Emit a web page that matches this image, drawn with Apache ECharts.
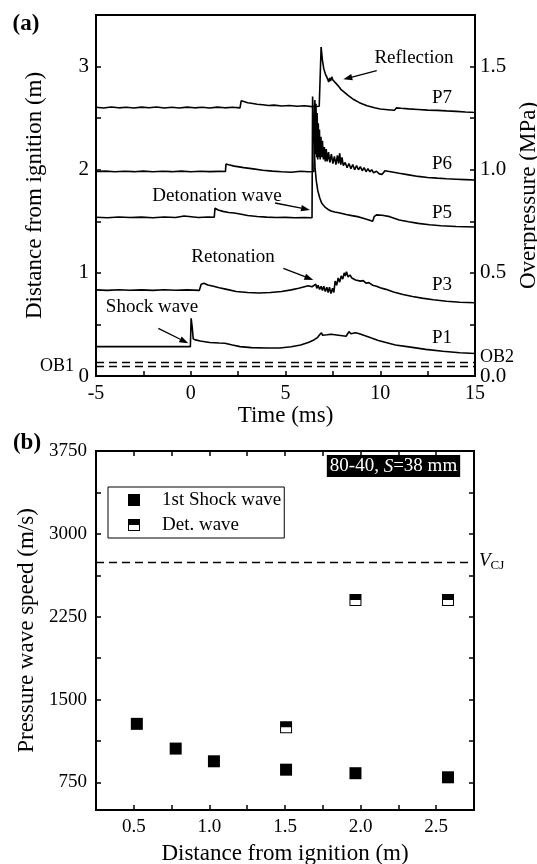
<!DOCTYPE html>
<html>
<head>
<meta charset="utf-8">
<script src="https://cdn.jsdelivr.net/npm/echarts@6/dist/echarts.min.js"></script>
<style>
html,body{margin:0;padding:0;background:#fff;}
#chart{width:537px;height:864px;}
</style>
</head>
<body>
<div id="chart"></div>
<script>
// ---------- Panel (a): pressure traces, [time (ms), offset distance (m)] ----------
const p7Trace = [[-5,2.605],[-4.6,2.598],[-4.2,2.608],[-3.8,2.600],[-3.4,2.606],[-3.0,2.598],[-2.6,2.607],[-2.2,2.600],[-1.8,2.608],[-1.4,2.599],[-1.0,2.606],[-0.6,2.598],[-0.2,2.607],[0.2,2.600],[0.6,2.606],[1.0,2.598],[1.4,2.607],[1.8,2.600],[2.2,2.606],[2.6,2.600],[2.66,2.668],[2.8,2.662],[3.0,2.650],[3.2,2.645],[3.5,2.634],[3.8,2.630],[4.1,2.622],[4.4,2.626],[4.8,2.618],[5.2,2.622],[5.6,2.615],[6.0,2.620],[6.4,2.612],[6.78,2.615],[6.88,3.19],[6.95,3.06],[7.02,2.98],[7.1,2.93],[7.2,2.89],[7.28,2.85],[7.33,2.89],[7.38,2.86],[7.44,2.90],[7.5,2.87],[7.6,2.86],[7.7,2.83],[7.8,2.81],[7.92,2.78],[8.05,2.76],[8.3,2.72],[8.6,2.68],[8.9,2.65],[9.3,2.62],[9.7,2.60],[10.0,2.588],[10.4,2.582],[10.75,2.576],[10.8,2.560],[10.86,2.600],[11.1,2.596],[11.5,2.590],[12.0,2.584],[12.5,2.578],[13.0,2.575],[13.5,2.570],[14.0,2.566],[14.5,2.560],[15.0,2.555]];
const p6Trace = [[-5,1.982],[-4.5,1.986],[-4,1.980],[-3.5,1.985],[-3,1.981],[-2.5,1.986],[-2,1.980],[-1.5,1.985],[-1,1.981],[-0.5,1.986],[0,1.980],[0.5,1.985],[1.0,1.981],[1.5,1.984],[1.83,1.982],[1.86,2.056],[2.0,2.048],[2.3,2.035],[2.8,2.020],[3.3,2.008],[3.8,1.995],[4.3,1.986],[4.8,1.980],[5.3,1.976],[5.8,1.985],[6.2,1.980],[6.5,1.982],[6.55,2.677],[6.58,2.15],[6.61,2.64],[6.64,2.12],[6.67,2.55],[6.70,2.10],[6.73,2.45],[6.76,2.12],[6.79,2.39],[6.83,2.10],[6.87,2.32],[6.91,2.12],[6.95,2.28],[7.0,2.10],[7.05,2.22],[7.1,2.08],[7.15,2.20],[7.2,2.08],[7.27,2.17],[7.34,2.07],[7.42,2.15],[7.5,2.06],[7.58,2.13],[7.66,2.05],[7.74,2.14],[7.8,2.06],[7.86,2.16],[7.92,2.05],[7.98,2.12],[8.05,2.04],[8.15,2.07],[8.25,2.02],[8.35,2.06],[8.45,2.01],[8.55,2.05],[8.65,2.00],[8.75,2.04],[8.85,2.00],[8.95,2.03],[9.05,1.99],[9.15,2.02],[9.25,1.98],[9.35,2.01],[9.45,1.98],[9.55,2.00],[9.65,1.97],[9.8,1.985],[9.95,1.96],[10.1,1.955],[10.2,1.950],[10.25,1.990],[10.4,1.985],[10.7,1.975],[11.0,1.965],[11.5,1.950],[12.0,1.935],[12.5,1.925],[13.0,1.918],[13.5,1.912],[14.0,1.908],[14.5,1.904],[15.0,1.900]];
const p5Trace = [[-5,1.539],[-4.4,1.535],[-3.8,1.541],[-3.2,1.536],[-2.6,1.540],[-2.0,1.535],[-1.4,1.541],[-0.8,1.537],[-0.35,1.552],[-0.25,1.540],[0.4,1.537],[0.9,1.541],[1.24,1.539],[1.28,1.627],[1.45,1.610],[1.7,1.596],[2.0,1.585],[2.3,1.580],[2.6,1.570],[3.0,1.556],[3.5,1.546],[4.0,1.540],[4.5,1.536],[5.0,1.538],[5.5,1.534],[6.0,1.537],[6.40,1.535],[6.43,2.709],[6.50,2.30],[6.56,2.02],[6.62,1.90],[6.70,1.80],[6.80,1.73],[6.90,1.68],[7.0,1.655],[7.1,1.635],[7.25,1.615],[7.4,1.600],[7.6,1.590],[7.87,1.580],[8.2,1.565],[8.5,1.555],[8.8,1.545],[9.1,1.530],[9.4,1.512],[9.6,1.500],[9.68,1.545],[9.8,1.562],[10.1,1.558],[10.5,1.545],[11.0,1.512],[11.5,1.495],[12.0,1.480],[12.6,1.466],[13.2,1.457],[14.0,1.450],[15.0,1.445]];
const p3Trace = [[-5,0.835],[-4.4,0.830],[-3.8,0.836],[-3.2,0.831],[-2.6,0.835],[-2.0,0.830],[-1.4,0.836],[-0.8,0.831],[-0.2,0.835],[0.45,0.830],[0.55,0.890],[0.7,0.900],[0.9,0.882],[1.2,0.870],[1.5,0.855],[1.9,0.840],[2.4,0.820],[3.0,0.810],[3.6,0.805],[4.2,0.810],[4.8,0.820],[5.3,0.835],[5.7,0.850],[6.0,0.865],[6.2,0.875],[6.4,0.865],[6.5,0.870],[6.6,0.890],[6.65,0.850],[6.72,0.880],[6.8,0.840],[6.88,0.870],[6.95,0.830],[7.02,0.870],[7.1,0.820],[7.18,0.860],[7.25,0.810],[7.32,0.860],[7.4,0.800],[7.48,0.850],[7.55,0.810],[7.62,0.920],[7.7,0.880],[7.78,0.950],[7.86,0.910],[7.94,0.970],[8.02,0.940],[8.1,1.000],[8.15,0.970],[8.22,1.010],[8.3,0.960],[8.4,0.980],[8.5,0.950],[8.6,0.960],[8.7,0.930],[8.8,0.945],[8.95,0.920],[9.1,0.925],[9.25,0.900],[9.4,0.905],[9.6,0.880],[9.8,0.870],[10.0,0.855],[10.3,0.840],[10.7,0.815],[11.2,0.790],[11.7,0.770],[12.2,0.755],[12.8,0.740],[13.5,0.725],[14.2,0.715],[15.0,0.710]];
const p1Trace = [[-5,0.285],[-3,0.285],[-1,0.285],[-0.02,0.285],[0.02,0.560],[0.08,0.470],[0.13,0.360],[0.25,0.350],[0.5,0.340],[1.0,0.325],[1.5,0.320],[1.8,0.318],[2.2,0.300],[2.6,0.285],[3.2,0.275],[4.0,0.272],[4.7,0.272],[5.3,0.283],[5.8,0.300],[6.2,0.325],[6.5,0.350],[6.7,0.375],[6.8,0.400],[6.85,0.385],[6.9,0.420],[6.95,0.395],[7.05,0.410],[7.2,0.400],[7.4,0.405],[7.6,0.400],[7.8,0.395],[8.0,0.390],[8.2,0.385],[8.3,0.380],[8.35,0.430],[8.45,0.410],[8.55,0.425],[8.7,0.420],[8.9,0.410],[9.2,0.390],[9.5,0.370],[9.9,0.345],[10.3,0.325],[10.8,0.300],[11.6,0.280],[12.4,0.258],[13.3,0.240],[14.2,0.226],[15.0,0.218]];
const obLevels = [0.085, 0.125];
const timeRange = [-5, 15];
const distRange = [0, 3.5];
const mpaRange = [0, 1.75];

// ---------- Panel (b): wave speeds ----------
const shockDist = [0.52, 0.777, 1.03, 1.507, 1.966, 2.578];
const shockSpeed = [1280, 1056, 941, 865, 833, 796];
const detDist = [1.507, 1.966, 2.578];
const detSpeed = [1250, 2400, 2400];
const vcj = 2745;
const speedTicks = [750, 1125, 1500, 1875, 2250, 2625, 3000, 3375, 3750];
const speedLabels = [750, 1500, 2250, 3000, 3750];

const SERIF = '"Liberation Serif","Times New Roman",serif';
const chart = echarts.init(document.getElementById('chart'), null, {renderer: 'canvas'});

const SQ = 'path://M0,0L12,0L12,12L0,12Z';
const DET = 'path://M0,0L12,0L12,12L0,12Z M1,6L1,11L11,11L11,6Z';

function axisCommon(extra) {
  return Object.assign({
    axisLine: {show: true, onZero: false, lineStyle: {color: '#000', width: 2}},
    axisTick: {show: true, inside: true, length: 5, lineStyle: {color: '#000', width: 1.5}},
    splitLine: {show: false},
    axisLabel: {color: '#000', fontFamily: SERIF, fontSize: 20},
    nameTextStyle: {color: '#000', fontFamily: SERIF, fontSize: 23}
  }, extra);
}
const halfStep = v => Math.abs(v * 2 - Math.round(v * 2)) < 1e-9;

function arrow(x1, y1, x2, y2) {
  const a = Math.atan2(y2 - y1, x2 - x1);
  const L = 9, W = 3.2;
  const bx = x2 - L * Math.cos(a), by = y2 - L * Math.sin(a);
  const px = -Math.sin(a) * W, py = Math.cos(a) * W;
  return [
    {type: 'line', z: 100, shape: {x1: x1, y1: y1, x2: bx, y2: by}, style: {stroke: '#000', lineWidth: 1.3}},
    {type: 'polygon', z: 100, shape: {points: [[x2, y2], [bx + px, by + py], [bx - px, by - py]]}, style: {fill: '#000'}}
  ];
}
function txt(x, y, text, size, bold) {
  return {type: 'text', z: 100, x: x, y: y,
    style: {text: text, fill: '#000', font: (bold ? 'bold ' : '') + size + 'px ' + SERIF, align: 'center', verticalAlign: 'middle'}};
}

const traceStyle = {color: '#000', width: 1.6};
function trace(name, data) {
  return {name: name, type: 'line', xAxisIndex: 0, yAxisIndex: 0, data: data, showSymbol: false, symbol: 'none',
    lineStyle: traceStyle, itemStyle: {color: '#000'}, silent: true, animation: false, sampling: null};
}

const option = {
  animation: false,
  backgroundColor: '#fff',
  grid: [
    {left: 96, top: 15, width: 379, height: 361, show: true, borderColor: '#000', borderWidth: 2, backgroundColor: 'transparent', containLabel: false, outerBoundsMode: 'none'},
    {left: 96, top: 451, width: 378, height: 359, show: true, borderColor: '#000', borderWidth: 2, backgroundColor: 'transparent', containLabel: false, outerBoundsMode: 'none'}
  ],
  xAxis: [
    axisCommon({gridIndex: 0, type: 'value', position: 'bottom', min: timeRange[0], max: timeRange[1], interval: 2.5,
      axisLabel: {color: '#000', fontFamily: SERIF, fontSize: 20, margin: 8, formatter: v => (v % 5 === 0 ? String(v) : '')},
      name: 'Time (ms)', nameLocation: 'middle', nameGap: 28}),
    axisCommon({gridIndex: 1, type: 'value', position: 'bottom', min: 0.25, max: 2.75, interval: 0.25,
      axisLabel: {color: '#000', fontFamily: SERIF, fontSize: 19, margin: 8, formatter: v => (halfStep(v) && v > 0.3 && v < 2.7 ? v.toFixed(1) : '')},
      name: 'Distance from ignition (m)', nameLocation: 'middle', nameGap: 32}),
    axisCommon({gridIndex: 1, type: 'value', position: 'top', min: 0.25, max: 2.75, interval: 0.25,
      axisLabel: {show: false}})
  ],
  yAxis: [
    axisCommon({gridIndex: 0, type: 'value', position: 'left', min: distRange[0], max: distRange[1], interval: 0.5,
      axisLabel: {color: '#000', fontFamily: SERIF, fontSize: 21, margin: 7, formatter: v => (Number.isInteger(v) ? String(v) : '')},
      name: 'Distance from ignition (m)', nameLocation: 'middle', nameRotate: 90, nameGap: 50}),
    axisCommon({gridIndex: 0, type: 'value', position: 'right', min: mpaRange[0], max: mpaRange[1], interval: 0.25,
      axisLabel: {color: '#000', fontFamily: SERIF, fontSize: 21, margin: 5, formatter: v => (halfStep(v) ? v.toFixed(1) : '')},
      name: 'Overpressure (MPa)', nameLocation: 'middle', nameRotate: 90, nameGap: 36}),
    axisCommon({gridIndex: 1, type: 'value', position: 'left', min: 500, max: 3750,
      axisTick: {show: true, inside: true, length: 5, lineStyle: {color: '#000', width: 1.5}, customValues: speedTicks},
      axisLabel: {color: '#000', fontFamily: SERIF, fontSize: 19, margin: 9, customValues: speedLabels, formatter: v => String(v)},
      name: 'Pressure wave speed (m/s)', nameLocation: 'middle', nameRotate: 90, nameGap: 57}),
    axisCommon({gridIndex: 1, type: 'value', position: 'right', min: 500, max: 3750,
      axisTick: {show: true, inside: true, length: 5, lineStyle: {color: '#000', width: 1.5}, customValues: speedTicks},
      axisLabel: {show: false}})
  ],
  legend: {
    show: true, orient: 'vertical', left: 108, top: 487,
    padding: [3, 3, 3, 20], itemGap: 5, itemWidth: 12, itemHeight: 12,
    borderColor: '#000', borderWidth: 1, backgroundColor: '#fff',
    textStyle: {color: '#000', fontFamily: SERIF, fontSize: 19, lineHeight: 20, padding: [0, 0, 0, 17]},
    data: [{name: '1st Shock wave', icon: SQ}, {name: 'Det. wave', icon: DET}],
    selectedMode: false
  },
  series: [
    trace('P7', p7Trace), trace('P6', p6Trace), trace('P5', p5Trace), trace('P3', p3Trace),
    Object.assign(trace('P1', p1Trace), {
      markLine: {silent: true, symbol: 'none', label: {show: false}, animation: false,
        lineStyle: {color: '#000', type: [8, 5], width: 1.3},
        data: obLevels.map(v => ({yAxis: v}))}
    }),
    {name: '1st Shock wave', type: 'scatter', xAxisIndex: 1, yAxisIndex: 2, symbol: SQ, symbolSize: 12,
      itemStyle: {color: '#000', opacity: 1}, data: shockDist.map((d, i) => [d, shockSpeed[i]]), z: 5},
    {name: 'Det. wave', type: 'scatter', xAxisIndex: 1, yAxisIndex: 2, symbol: DET, symbolSize: 12,
      itemStyle: {color: '#000', opacity: 1}, data: detDist.map((d, i) => [d, detSpeed[i]]), z: 6,
      markLine: {silent: true, symbol: 'none', label: {show: false}, animation: false,
        lineStyle: {color: '#000', type: [8, 5], width: 1.3},
        data: [{yAxis: vcj}]}}
  ],
  graphic: [
    txt(26, 24, '(a)', 23, true),
    txt(27, 443, '(b)', 23, true),
    txt(414, 58, 'Reflection', 19),
    txt(442, 98, 'P7', 19),
    txt(442, 164, 'P6', 19),
    txt(217, 196, 'Detonation wave', 19),
    txt(442, 213, 'P5', 19),
    txt(233, 257, 'Retonation', 19),
    txt(442, 285, 'P3', 19),
    txt(152, 307, 'Shock wave', 19),
    txt(442, 338, 'P1', 19),
    txt(57, 366, 'OB1', 18),
    txt(497, 357, 'OB2', 18),
    ...arrow(376.7, 70.7, 343.3, 79.3),
    ...arrow(275, 203, 310, 210),
    ...arrow(283.3, 268.3, 313.3, 280),
    ...arrow(158.3, 328.3, 188.3, 343.3),
    {type: 'text', z: 100, x: 393.5, y: 466,
      style: {text: '{a|80-40, }{b|S}{a|=38 mm}', align: 'center', verticalAlign: 'middle',
        backgroundColor: '#000', padding: [2, 3, 1, 3],
        rich: {a: {fill: '#fff', font: '19px ' + SERIF}, b: {fill: '#fff', font: 'italic 19px ' + SERIF}}}},
    {type: 'text', z: 100, x: 479, y: 561,
      style: {text: '{v|V}{s|CJ}', align: 'left', verticalAlign: 'middle',
        rich: {v: {fill: '#000', font: 'italic 19px ' + SERIF}, s: {fill: '#000', font: '13px ' + SERIF, padding: [10, 0, 0, 0]}}}}
  ]
};
chart.setOption(option);
</script>
</body>
</html>
